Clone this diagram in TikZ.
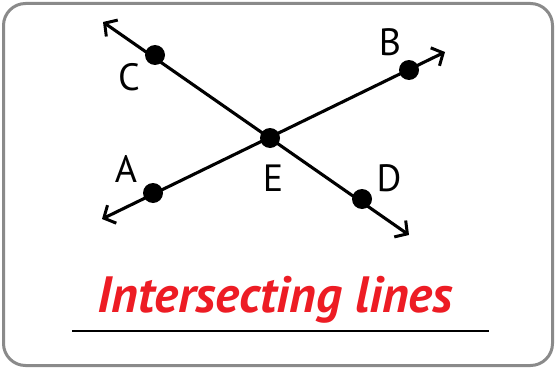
\documentclass[tikz,border=0pt]{standalone}
\usepackage{fontspec}
\setmainfont{PT Sans}
\usepackage{tikz}
\usetikzlibrary{arrows.meta, positioning}

\definecolor{titlered}{HTML}{ED1C24}
\definecolor{framegrey}{HTML}{8A8A8A}

\tikzset{
  pt/.style={circle, fill=black, inner sep=0pt, minimum size=20pt},
  lbl/.style={font=\fontsize{38}{38}\selectfont, inner sep=0pt},
  ray/.style={line width=3.1pt, {Straight Barb[length=9pt,width=20pt,line width=3pt]}-{Straight Barb[length=9pt,width=20pt,line width=3pt]}}
}

\begin{document}
\begin{tikzpicture}[x=1pt, y=-1pt]
	\useasboundingbox (0,0) rectangle (556,369);
	\draw[framegrey, line width=3pt, rounded corners=22pt] (3.5,3.5) rectangle (552.5,365.5);
	
	% the two lines
	\coordinate (endC) at (103,22);
	\coordinate (endD) at (409,235);
	\coordinate (endA) at (102,219);
	\coordinate (endB) at (445,52);
	
	\node (C) [pt] at (155,55) {};
	\node (E) [pt] at (270,138) {};
	\node (D) [pt] at (362,199) {};
	\node (A) [pt] at (153,193) {};
	\node (B) [pt] at (409,70) {};
	
	\draw[ray] (endC) -- (endD);
	\draw[ray] (endA) -- (endB);
	
	\node (lC) [lbl] at (129,77) {C};
	\node (lB) [lbl] at (390,42) {B};
	\node (lA) [lbl] at (126,169) {A};
	\node (lE) [lbl] at (273,178) {E};
	\node (lD) [lbl] at (389,178) {D};
	
	% title
	\node (title) [text=titlered, inner sep=0pt, font=\fontsize{51}{51}\selectfont\bfseries\itshape] at (275,300) {Intersecting lines};
	\coordinate (ulL) at (72,331);
	\coordinate (ulR) at (489,331);
	\draw[line width=2.6pt] (ulL) -- (ulR);
\end{tikzpicture}
\end{document}
